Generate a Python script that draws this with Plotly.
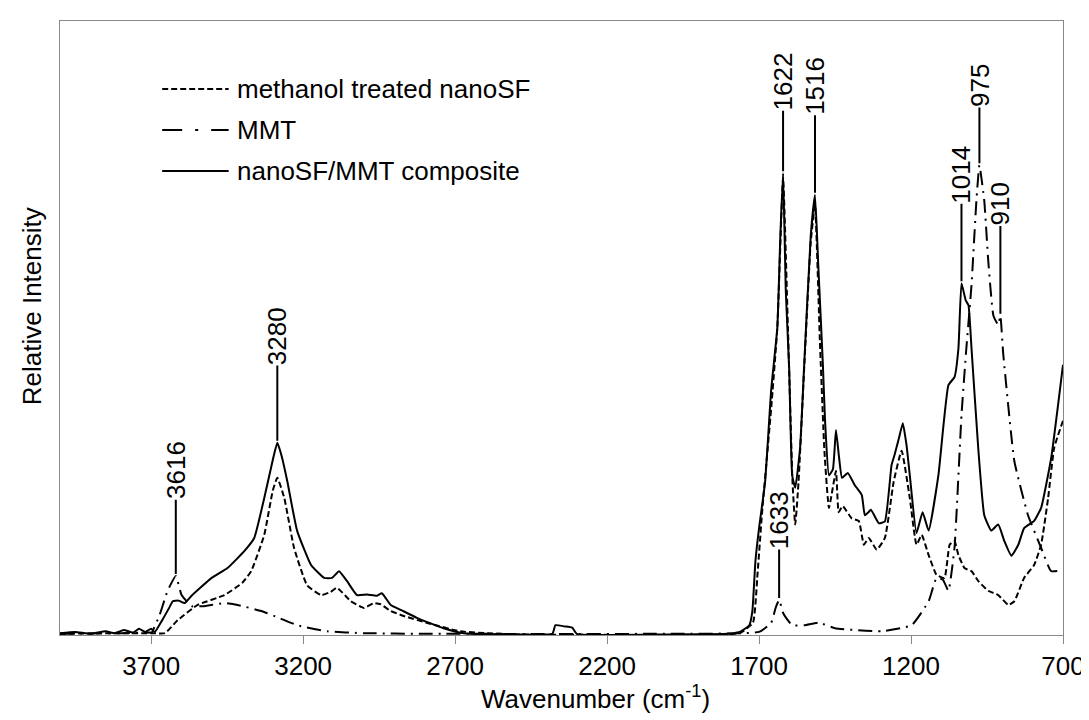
import numpy as np
import plotly.graph_objects as go

# ---------------- data ----------------
comp_wn = [4000, 3950, 3900, 3850, 3820, 3790, 3760, 3740, 3720, 3700, 3688, 3665, 3640, 3629, 3610,
           3590, 3567, 3501, 3449, 3393, 3361, 3328, 3300, 3285, 3270, 3252, 3220, 3174, 3131,
           3105, 3082, 3056, 3023, 2990, 2957, 2941, 2912, 2879, 2826, 2738, 2672, 2500, 2380,
           2370, 2340, 2315, 2300, 2000, 1800, 1760, 1732, 1722, 1712, 1700, 1680, 1660, 1640,
           1630, 1621, 1612, 1601, 1591, 1581, 1565, 1552, 1530, 1516, 1505, 1490, 1483, 1470,
           1457, 1447, 1437, 1427, 1408, 1385, 1362, 1352, 1340, 1332, 1306, 1286, 1264, 1255,
           1240, 1227, 1215, 1204, 1182, 1162, 1142, 1110, 1077, 1057, 1044, 1034, 1020, 1011,
           1001, 979, 959, 936, 913, 893, 870, 847, 828, 795, 772, 739, 700]
comp_int = [0.003, 0.005, 0.002, 0.006, 0.003, 0.008, 0.004, 0.010, 0.005, 0.010, 0.005, 0.023, 0.045, 0.055, 0.056,
            0.052, 0.064, 0.093, 0.109, 0.137, 0.158, 0.223, 0.285, 0.313, 0.290, 0.250, 0.170, 0.114, 0.093,
            0.093, 0.104, 0.088, 0.065, 0.066, 0.064, 0.068, 0.049, 0.041, 0.028, 0.011, 0.003, 0.001, 0.002,
            0.016, 0.014, 0.012, 0.002, 0.001, 0.002, 0.006, 0.016, 0.039, 0.120, 0.174, 0.250, 0.400, 0.500,
            0.650, 0.752, 0.560, 0.435, 0.260, 0.240, 0.305, 0.435, 0.650, 0.717, 0.600, 0.440, 0.350, 0.260,
            0.270, 0.334, 0.290, 0.256, 0.264, 0.244, 0.228, 0.195, 0.200, 0.204, 0.182, 0.185, 0.277, 0.292,
            0.320, 0.345, 0.310, 0.260, 0.166, 0.200, 0.170, 0.260, 0.407, 0.420, 0.467, 0.573, 0.545, 0.537,
            0.467, 0.305, 0.195, 0.170, 0.180, 0.153, 0.129, 0.147, 0.174, 0.186, 0.207, 0.288, 0.440]

meoh_wn = [4000, 3800, 3700, 3655, 3613, 3547, 3459, 3400, 3371, 3328, 3300, 3285, 3262, 3230,
           3187, 3141, 3110, 3089, 3043, 3000, 2967, 2945, 2912, 2869, 2794, 2683, 2500, 1800,
           1760, 1720, 1705, 1690, 1660, 1640, 1621, 1605, 1590, 1581, 1570, 1550, 1530, 1516,
           1500, 1485, 1470, 1447, 1438, 1425, 1395, 1372, 1355, 1339, 1313, 1286, 1257, 1231,
           1204, 1182, 1165, 1142, 1116, 1090, 1073, 1057, 1044, 1024, 1001, 979, 946, 913,
           880, 860, 828, 795, 772, 749, 729, 700]
meoh_int = [0.002, 0.003, 0.003, 0.003, 0.024, 0.049, 0.065, 0.085, 0.104, 0.163, 0.235, 0.256, 0.223, 0.142,
            0.081, 0.065, 0.070, 0.077, 0.055, 0.044, 0.052, 0.050, 0.039, 0.031, 0.020, 0.006, 0.001, 0.001,
            0.004, 0.020, 0.100, 0.200, 0.370, 0.500, 0.745, 0.500, 0.250, 0.180, 0.250, 0.450, 0.640, 0.700,
            0.480, 0.300, 0.207, 0.267, 0.200, 0.210, 0.190, 0.186, 0.147, 0.158, 0.139, 0.158, 0.250, 0.300,
            0.223, 0.147, 0.163, 0.130, 0.098, 0.093, 0.147, 0.153, 0.130, 0.109, 0.104, 0.088, 0.072, 0.065,
            0.049, 0.055, 0.093, 0.114, 0.147, 0.223, 0.305, 0.349]

mmt_wn = [4000, 3800, 3700, 3698, 3672, 3646, 3619, 3600, 3567, 3530, 3459, 3416, 3338, 3280,
          3220, 3121, 3000, 2800, 2000, 1700, 1660, 1645, 1634, 1620, 1591, 1550, 1503, 1450,
          1296, 1198, 1142, 1116, 1095, 1077, 1057, 1034, 1018, 1001, 985, 975, 959, 946,
          929, 913, 906, 897, 860, 815, 772, 739, 700]
mmt_int = [0.002, 0.003, 0.004, 0.004, 0.033, 0.072, 0.096, 0.065, 0.047, 0.047, 0.052, 0.049, 0.039, 0.028,
           0.016, 0.006, 0.003, 0.002, 0.002, 0.005, 0.020, 0.045, 0.057, 0.035, 0.016, 0.016, 0.020, 0.011,
           0.006, 0.016, 0.055, 0.093, 0.090, 0.072, 0.142, 0.358, 0.467, 0.570, 0.707, 0.765, 0.707, 0.610,
           0.520, 0.505, 0.520, 0.460, 0.283, 0.195, 0.142, 0.104, 0.106]

x_ticks = [3700, 3200, 2700, 2200, 1700, 1200, 700]

# peak labels: text, wavenumber where the marker line sits, series it points to
peak_text = ["3616", "3280", "1633", "1622", "1516", "1014", "975", "910"]
peak_wn = [3619, 3285, 1634, 1621, 1516, 1034, 975, 906]
peak_series = ["mmt", "comp", "mmt", "comp", "comp", "comp", "mmt", "mmt"]
peak_line_px = [71, 72, 45, 57, 74, 74, 52, 84]   # length of the marker line (px)

series_names = ["methanol treated nanoSF", "MMT", "nanoSF/MMT composite"]
x_title = "Wavenumber (cm<sup>-1</sup>)"
y_title = "Relative Intensity"

# ---------------- styling ----------------
FONT = "Liberation Sans, Arial, sans-serif"
FS = 26
W, H = 1089, 720
ML, MR, MT, MB = 52, 26, 13, 93
PW, PH = W - ML - MR, H - MT - MB
FRAME = "#888888"
DASH_MEOH = "6px,3px"
DASH_MMT = "14px,6px,2px,6px"


def px_x(p):
    return (p - ML) / PW


def px_y(p):
    return (H - MB - p) / PH


fig = go.Figure()
fig.add_trace(go.Scatter(x=meoh_wn, y=meoh_int, mode="lines", name=series_names[0],
                         line=dict(color="black", width=2, dash=DASH_MEOH, shape="spline", smoothing=0.4),
                         showlegend=False))
fig.add_trace(go.Scatter(x=mmt_wn, y=mmt_int, mode="lines", name=series_names[1],
                         line=dict(color="black", width=2, dash=DASH_MMT, shape="spline", smoothing=0.4),
                         showlegend=False))
fig.add_trace(go.Scatter(x=comp_wn, y=comp_int, mode="lines", name=series_names[2],
                         line=dict(color="black", width=2, shape="spline", smoothing=0.4),
                         showlegend=False))

series_lookup = {
    "comp": (np.array(comp_wn[::-1]), np.array(comp_int[::-1])),
    "mmt": (np.array(mmt_wn[::-1]), np.array(mmt_int[::-1])),
}

annotations = []
for txt, wn, ser, ln in zip(peak_text, peak_wn, peak_series, peak_line_px):
    xs, ys = series_lookup[ser]
    yv = float(np.interp(wn, xs, ys))
    half = len(txt) * 0.556 * FS / 2
    annotations.append(dict(
        x=wn, y=yv, xref="x", yref="y", text=txt, textangle=-90,
        showarrow=True, arrowhead=0, arrowwidth=2, arrowcolor="black",
        ax=0, ay=-(ln + 6 + half), standoff=2, borderpad=0,
        font=dict(family=FONT, size=FS, color="black"),
    ))

# manual legend (like the original)
leg_rows_px = [81, 122, 163]
leg_x0_px, leg_x1_px, leg_tx_px = 155, 222, 228
leg_dash = [DASH_MEOH, "20px,13px,3px,13px", "solid"]
shapes = []
for name, ypx, dsh in zip(series_names, leg_rows_px, leg_dash):
    shapes.append(dict(type="line", xref="paper", yref="paper",
                       x0=px_x(leg_x0_px), x1=px_x(leg_x1_px), y0=px_y(ypx), y1=px_y(ypx),
                       line=dict(color="black", width=2, dash=dsh)))
    annotations.append(dict(x=px_x(leg_tx_px), y=px_y(ypx), xref="paper", yref="paper",
                            text=name, showarrow=False, xanchor="left", yanchor="middle",
                            font=dict(family=FONT, size=FS, color="black")))

# axis titles (placed like the original)
annotations.append(dict(x=px_x(592), y=px_y(707), xref="paper", yref="paper", text=x_title,
                        showarrow=False, xanchor="center", yanchor="bottom", borderpad=0,
                        font=dict(family=FONT, size=FS, color="black")))
annotations.append(dict(x=px_x(24), y=px_y(298), xref="paper", yref="paper", text=y_title,
                        textangle=-90, showarrow=False, xanchor="center", yanchor="middle",
                        font=dict(family=FONT, size=FS, color="black")))

fig.update_layout(
    width=W, height=H,
    margin=dict(l=ML, r=MR, t=MT, b=MB),
    paper_bgcolor="white", plot_bgcolor="white",
    font=dict(family=FONT, size=FS, color="black"),
    annotations=annotations, shapes=shapes,
    showlegend=False,
)
fig.update_xaxes(range=[4000, 700], tickvals=x_ticks, ticks="outside", ticklen=8,
                 tickcolor=FRAME, tickwidth=1, showline=True, linecolor=FRAME, linewidth=1,
                 mirror=True, showgrid=False, zeroline=False,
                 tickfont=dict(family=FONT, size=FS, color="black"))
fig.update_yaxes(range=[0, 1], showticklabels=False, ticks="", showline=True,
                 linecolor=FRAME, linewidth=1, mirror=True, showgrid=False, zeroline=False)

fig.write_html("out.html")
